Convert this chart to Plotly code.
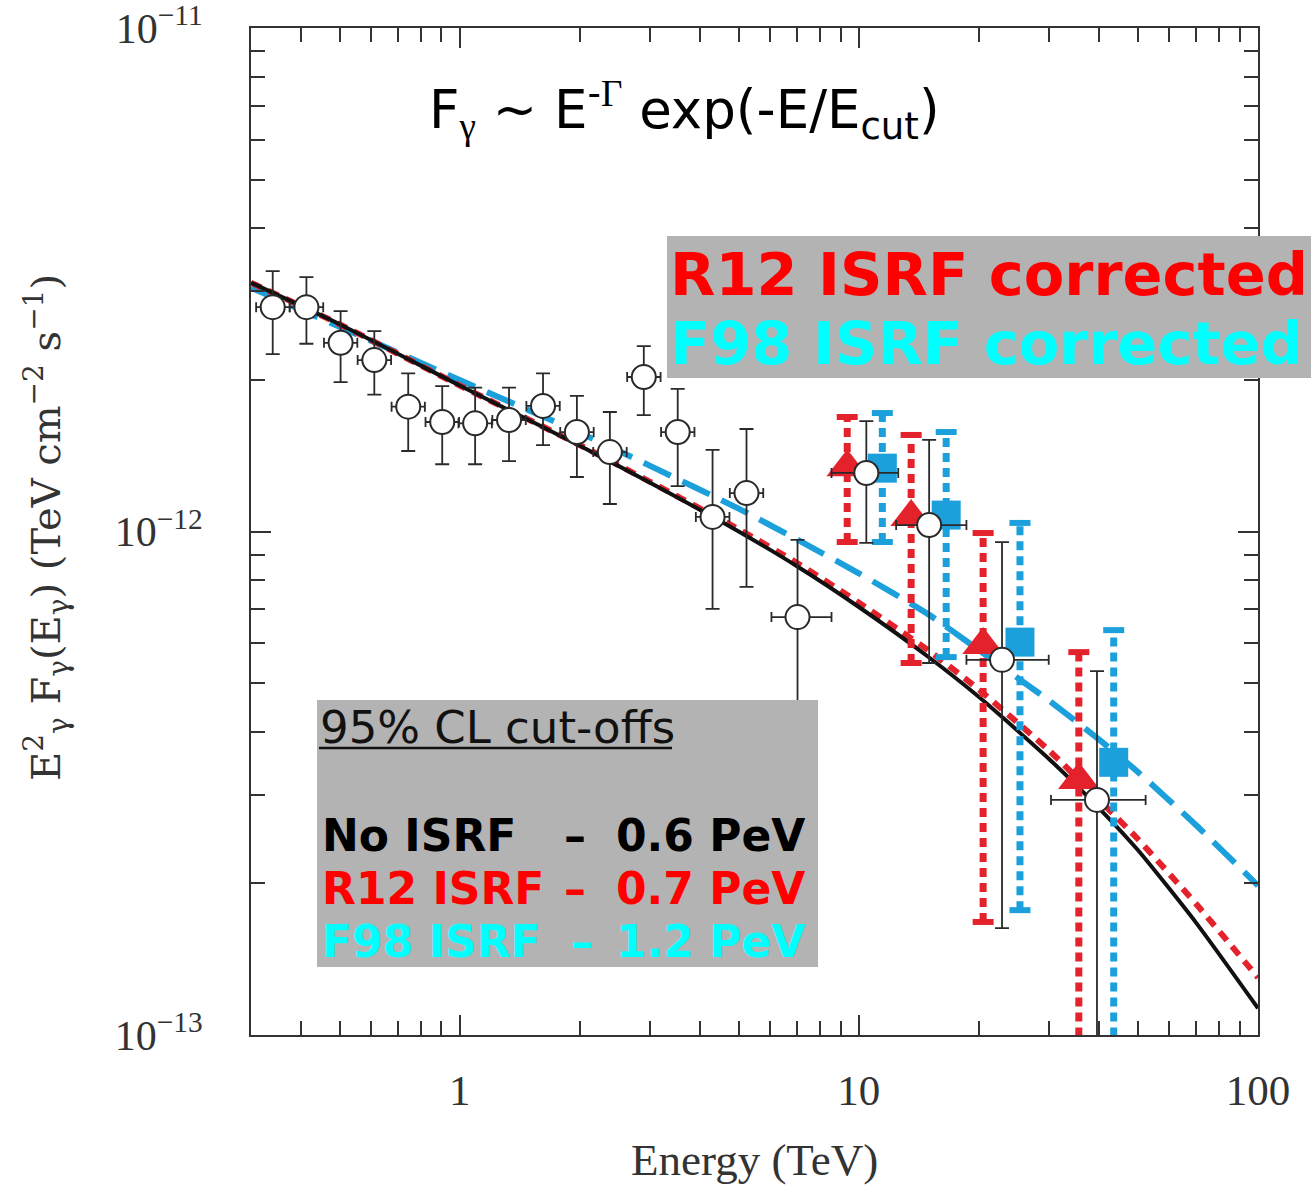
import plotly.graph_objects as go

# ---------------- data ----------------
# Measured spectrum (open circles): energy in TeV, E^2 F in TeV cm^-2 s^-1
energy = [0.340, 0.413, 0.503, 0.611, 0.743, 0.904, 1.093, 1.329, 1.617, 1.966,
          2.378, 2.892, 3.517, 4.30, 5.23, 7.02, 10.44, 15.0, 22.84, 39.5]
energy_lo = [0.309, 0.375, 0.457, 0.555, 0.675, 0.821, 0.993, 1.207, 1.469, 1.786,
             2.160, 2.627, 3.195, 3.905, 4.75, 6.04, 8.54, 12.4, 18.6, 30.3]
energy_hi = [0.375, 0.455, 0.554, 0.673, 0.818, 0.996, 1.204, 1.464, 1.781, 2.166,
             2.620, 3.186, 3.874, 4.74, 5.76, 8.54, 12.55, 18.6, 29.9, 52.3]
flux = [2.79e-12, 2.79e-12, 2.37e-12, 2.19e-12, 1.77e-12, 1.65e-12, 1.64e-12, 1.665e-12,
        1.776e-12, 1.576e-12, 1.438e-12, 2.027e-12, 1.576e-12, 1.069e-12, 1.192e-12,
        6.76e-13, 1.307e-12, 1.030e-12, 5.56e-13, 2.93e-13]
flux_hi = [3.29e-12, 3.20e-12, 2.74e-12, 2.50e-12, 2.06e-12, 1.945e-12, 1.93e-12, 1.93e-12,
           2.06e-12, 1.86e-12, 1.727e-12, 2.335e-12, 1.919e-12, 1.452e-12, 1.598e-12,
           9.62e-13, 1.657e-12, 1.52e-12, 9.53e-13, 5.28e-13]
flux_lo = [2.25e-12, 2.36e-12, 1.98e-12, 1.87e-12, 1.445e-12, 1.36e-12, 1.36e-12, 1.38e-12,
           1.485e-12, 1.283e-12, 1.134e-12, 1.703e-12, 1.231e-12, 7.02e-13, 7.76e-13,
           4.2e-13, 9.49e-13, 5.48e-13, 1.63e-13, 5e-14]

# ISRF-corrected high-energy points: R12 (triangles) and F98 (squares)
r12_energy = [9.35, 13.52, 20.48, 35.57]
r12_flux = [1.342e-12, 1.068e-12, 5.95e-13, 3.21e-13]
r12_hi = [1.688e-12, 1.555e-12, 9.93e-13, 5.76e-13]
r12_lo = [9.53e-13, 5.48e-13, 1.677e-13, 5e-14]

f98_energy = [11.45, 16.55, 25.33, 43.5]
f98_flux = [1.336e-12, 1.078e-12, 6.03e-13, 3.48e-13]
f98_hi = [1.719e-12, 1.576e-12, 1.04e-12, 6.37e-13]
f98_lo = [9.53e-13, 5.63e-13, 1.77e-13, 5e-14]

# Fitted spectra (power law with exponential cut-off)
curve_energy = [0.3, 0.5, 1, 2, 3, 5, 7, 10, 15, 20, 30, 40, 50, 70, 100]
curve_no_isrf = [3.12e-12, 2.58e-12, 1.95e-12, 1.48e-12, 1.25e-12, 1.0e-12, 8.53e-13,
                 7.08e-13, 5.62e-13, 4.69e-13, 3.53e-13, 2.82e-13, 2.33e-13, 1.67e-13, 1.13e-13]
curve_r12 = [3.12e-12, 2.58e-12, 1.95e-12, 1.485e-12, 1.255e-12, 1.01e-12, 8.66e-13,
             7.22e-13, 5.79e-13, 4.85e-13, 3.67e-13, 2.93e-13, 2.45e-13, 1.82e-13, 1.30e-13]
curve_f98 = [3.05e-12, 2.55e-12, 2.0e-12, 1.57e-12, 1.35e-12, 1.11e-12, 9.64e-13,
             8.26e-13, 6.83e-13, 5.81e-13, 4.61e-13, 3.86e-13, 3.33e-13, 2.61e-13, 1.98e-13]

x_ticks = [1, 10, 100]
x_tick_text = ["1", "10", "100"]
x_minor = [0.4, 0.5, 0.6, 0.7, 0.8, 0.9, 2, 3, 4, 5, 6, 7, 8, 9,
           20, 30, 40, 50, 60, 70, 80, 90]
y_ticks = [1e-13, 1e-12, 1e-11]
y_tick_text = ["10<sup>\u221213</sup>", "10<sup>\u221212</sup>", "10<sup>\u221211</sup>"]
y_minor = [2e-13, 3e-13, 4e-13, 5e-13, 6e-13, 7e-13, 8e-13, 9e-13,
           2e-12, 3e-12, 4e-12, 5e-12, 6e-12, 7e-12, 8e-12, 9e-12]

cutoff_labels = ["No ISRF", "R12 ISRF", "F98 ISRF"]
cutoff_values = ["0.6 PeV", "0.7 PeV", "1.2 PeV"]

# ---------------- styling ----------------
W, H = 1311, 1189
L, R, T, B = 251, 1258, 28, 1035
RED = "#e3222c"
BLUE = "#1ca0dc"
INK = "#2a2a2a"
SERIF = "Liberation Serif"
SANS = "DejaVu Sans"


def xp(px):
    return (px - L) / (R - L)


def yp(py):
    return (B - py) / (B - T)


def bar_path(xs, lo, hi):
    bx, by = [], []
    for x, a, b in zip(xs, lo, hi):
        bx += [x, x, None]
        by += [a, b, None]
    return bx, by


fig = go.Figure()

# fitted curves
fig.add_trace(go.Scatter(x=curve_energy, y=curve_f98, mode="lines",
                         line=dict(color=BLUE, width=6, dash="30px,13px",
                                   shape="spline", smoothing=0.6)))
fig.add_trace(go.Scatter(x=curve_energy, y=curve_r12, mode="lines",
                         line=dict(color=RED, width=6, dash="11px,8px",
                                   shape="spline", smoothing=0.6)))
fig.add_trace(go.Scatter(x=curve_energy, y=curve_no_isrf, mode="lines",
                         line=dict(color="#111111", width=4,
                                   shape="spline", smoothing=0.6)))

# dotted error bars of the corrected points
for xs, ys, lo, hi, col in [(r12_energy, r12_flux, r12_lo, r12_hi, RED),
                            (f98_energy, f98_flux, f98_lo, f98_hi, BLUE)]:
    bx, by = bar_path(xs, lo, hi)
    fig.add_trace(go.Scatter(x=bx, y=by, mode="lines",
                             line=dict(color=col, width=7, dash="9px,6px")))
    fig.add_trace(go.Scatter(x=xs, y=hi, mode="markers",
                             marker=dict(symbol="line-ew", size=15,
                                         line=dict(color=col, width=6))))
    fig.add_trace(go.Scatter(x=xs[:3], y=lo[:3], mode="markers",
                             marker=dict(symbol="line-ew", size=15,
                                         line=dict(color=col, width=6))))

fig.add_trace(go.Scatter(x=r12_energy, y=r12_flux, mode="markers",
                         marker=dict(symbol="triangle-up", size=36, color=RED,
                                     line=dict(width=0))))
fig.add_trace(go.Scatter(x=f98_energy, y=f98_flux, mode="markers",
                         marker=dict(symbol="square", size=29, color=BLUE,
                                     line=dict(width=0))))

# measured points
fig.add_trace(go.Scatter(
    x=energy, y=flux, mode="markers",
    marker=dict(symbol="circle", size=24, color="white",
                line=dict(color=INK, width=2)),
    error_y=dict(type="data", symmetric=False,
                 array=[h - f for h, f in zip(flux_hi, flux)],
                 arrayminus=[f - l for f, l in zip(flux, flux_lo)],
                 color=INK, thickness=1.8, width=7),
    error_x=dict(type="data", symmetric=False,
                 array=[h - e for h, e in zip(energy_hi, energy)],
                 arrayminus=[e - l for e, l in zip(energy, energy_lo)],
                 color=INK, thickness=1.8, width=5),
))

axis_common = dict(showline=True, linecolor="#333333", linewidth=2, mirror="allticks",
                   ticks="inside", ticklen=20, tickwidth=1.5, tickcolor="#333333",
                   showgrid=False, zeroline=False, ticklabeloverflow="allow",
                   automargin=False)

fig.update_layout(
    width=W, height=H,
    margin=dict(l=L, r=W - R, t=T, b=H - B, autoexpand=False),
    paper_bgcolor="white", plot_bgcolor="white",
    showlegend=False,
    xaxis=dict(type="log", range=[-0.5229, 2], tickmode="array",
               tickvals=x_ticks, ticktext=x_tick_text,
               tickfont=dict(family=SERIF, size=43, color="#333333"),
               ticklabelstandoff=16,
               minor=dict(tickmode="array", tickvals=x_minor, ticks="inside",
                          ticklen=14, tickwidth=1.5, tickcolor="#333333", showgrid=False),
               **axis_common),
    yaxis=dict(type="log", range=[-13, -11], tickmode="array",
               tickvals=y_ticks, ticktext=y_tick_text,
               tickfont=dict(family=SERIF, size=42, color="#333333"),
               ticklabelstandoff=38,
               minor=dict(tickmode="array", tickvals=y_minor, ticks="inside",
                          ticklen=14, tickwidth=1.5, tickcolor="#333333", showgrid=False),
               **axis_common),
)

shapes = [
    dict(type="rect", xref="paper", yref="paper", layer="above",
         x0=xp(667), x1=xp(1311), y0=yp(378), y1=yp(236),
         fillcolor="#b3b3b3", line=dict(width=0)),
    dict(type="rect", xref="paper", yref="paper", layer="above",
         x0=xp(317), x1=xp(818), y0=yp(967), y1=yp(700),
         fillcolor="#b3b3b3", line=dict(width=0)),
    dict(type="line", xref="paper", yref="paper", layer="above",
         x0=xp(319), x1=xp(672), y0=yp(748), y1=yp(748),
         line=dict(color="#111111", width=2.5)),
]
fig.update_layout(shapes=shapes)

ann = []
# axis titles
ann.append(dict(xref="paper", yref="paper", x=xp(754), y=yp(1160), showarrow=False,
                text="Energy (TeV)", font=dict(family=SERIF, size=45, color="#333333"),
                xanchor="center", yanchor="middle"))
ann.append(dict(xref="paper", yref="paper", x=xp(46), y=yp(528), showarrow=False,
                textangle=-90,
                text="E<sup>2</sup><sub>\u03b3</sub> F<sub>\u03b3</sub>(E<sub>\u03b3</sub>)"
                     "\u00a0(TeV\u00a0cm<sup>\u22122</sup>\u00a0s<sup>\u22121</sup>)",
                font=dict(family="DejaVu Serif", size=40, color="#333333"),
                xanchor="center", yanchor="middle"))
# model formula
ann.append(dict(xref="paper", yref="paper", x=xp(684), y=yp(110), showarrow=False,
                text="F<sub><span style=\"font-family:Liberation Serif\">\u03b3</span></sub>"
                     " ~ E<sup>-<span style=\"font-family:Liberation Serif\">\u0393</span></sup>"
                     " exp(-E/E<sub>cut</sub>)",
                font=dict(family=SANS, size=53, color="black"),
                xanchor="center", yanchor="middle"))
# corrected labels
ann.append(dict(xref="paper", yref="paper", x=xp(668), y=yp(275), showarrow=False,
                text="<b>R12 ISRF corrected</b>", font=dict(family=SANS, size=59, color="#ff0000"),
                xanchor="left", yanchor="middle"))
ann.append(dict(xref="paper", yref="paper", x=xp(668), y=yp(344), showarrow=False,
                text="<b>F98 ISRF corrected</b>", font=dict(family=SANS, size=59, color="#00ffff"),
                xanchor="left", yanchor="middle"))
# cut-off summary
ann.append(dict(xref="paper", yref="paper", x=xp(318), y=yp(727), showarrow=False,
                text="95% CL cut-offs", font=dict(family=SANS, size=45, color="#111111"),
                xanchor="left", yanchor="middle"))
row_y = [836, 888, 941]
row_col = ["#000000", "#ff0000", "#00ffff"]
dash_x = [575, 575, 582]
for lab, val, y, c, dx in zip(cutoff_labels, cutoff_values, row_y, row_col, dash_x):
    ann.append(dict(xref="paper", yref="paper", x=xp(320), y=yp(y), showarrow=False,
                    text="<b>%s</b>" % lab, font=dict(family=SANS, size=44, color=c),
                    xanchor="left", yanchor="middle"))
    ann.append(dict(xref="paper", yref="paper", x=xp(dx), y=yp(y), showarrow=False,
                    text="<b>\u2013</b>", font=dict(family=SANS, size=44, color=c),
                    xanchor="center", yanchor="middle"))
    ann.append(dict(xref="paper", yref="paper", x=xp(807), y=yp(y), showarrow=False,
                    text="<b>%s</b>" % val, font=dict(family=SANS, size=44, color=c),
                    xanchor="right", yanchor="middle"))
fig.update_layout(annotations=ann)

fig.write_html("out.html")
